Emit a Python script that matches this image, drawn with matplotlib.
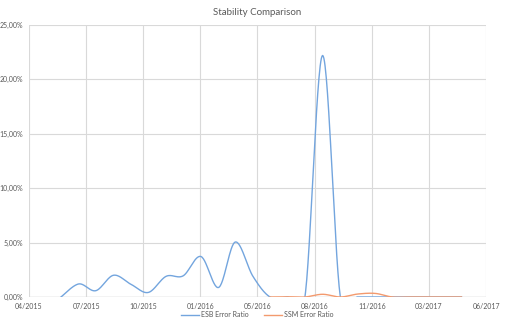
import datetime as dt

import matplotlib
matplotlib.use("Agg")
import matplotlib.pyplot as plt
import matplotlib.dates as mdates
import numpy as np

# monthly error ratios, in percent
esb_months = ["2015-05", "2015-06", "2015-07", "2015-08", "2015-09", "2015-10",
              "2015-11", "2015-12", "2016-01", "2016-02", "2016-03", "2016-04",
              "2016-05", "2016-06", "2016-07", "2016-08", "2016-09", "2016-10",
              "2016-11", "2016-12", "2017-01", "2017-02", "2017-03", "2017-04"]
esb_ratio = [0.0, 1.2, 0.58, 2.0, 1.15, 0.42,
             1.9, 1.95, 3.72, 0.88, 5.05, 1.9,
             0.0, 0.0, 0.0, 22.2, 0.0, 0.0,
             0.0, 0.0, 0.0, 0.0, 0.0, 0.0]

ssm_months = ["2016-05", "2016-06", "2016-07", "2016-08", "2016-09", "2016-10",
              "2016-11", "2016-12", "2017-01", "2017-02", "2017-03", "2017-04"]
ssm_ratio = [0.0, 0.02, 0.0, 0.25, 0.0, 0.27,
             0.33, 0.0, 0.0, 0.0, 0.0, 0.0]

y_ticks = [0, 5, 10, 15, 20, 25]


def to_dates(months):
    return [dt.date(int(m[:4]), int(m[5:]), 27) for m in months]


def smooth(xs, ys, n=30):
    # catmull-rom style bezier, same idea as the "smoothed line" option in excel
    xs = np.asarray(xs, float)
    ys = np.asarray(ys, float)
    px = np.concatenate([[xs[0]], xs, [xs[-1]]])
    py = np.concatenate([[ys[0]], ys, [ys[-1]]])
    out_x, out_y = [], []
    t = np.linspace(0, 1, n)
    for i in range(1, len(px) - 2):
        p0 = np.array([px[i], py[i]])
        p3 = np.array([px[i + 1], py[i + 1]])
        c1 = p0 + (p3 - np.array([px[i - 1], py[i - 1]])) / 6
        c2 = p3 - (np.array([px[i + 2], py[i + 2]]) - p0) / 6
        b = ((1 - t) ** 3)[:, None] * p0 + (3 * (1 - t) ** 2 * t)[:, None] * c1 \
            + (3 * (1 - t) * t ** 2)[:, None] * c2 + (t ** 3)[:, None] * p3
        out_x.extend(b[:, 0])
        out_y.extend(b[:, 1])
    return np.array(out_x), np.array(out_y)


plt.rcParams["font.family"] = ["Lato", "DejaVu Sans"]

fig = plt.figure(figsize=(5.05, 3.3), dpi=100)
ax = fig.add_axes([0.0574, 0.1, 0.905, 0.8242])

start = dt.date(2015, 4, 1)
x0 = mdates.date2num(start)

ex, ey = smooth(mdates.date2num(to_dates(esb_months)), esb_ratio)
sx, sy = smooth(mdates.date2num(to_dates(ssm_months)), ssm_ratio)

ax.plot(ex, ey, color="#73a5de", lw=1.0, label="ESB Error Ratio")
ax.plot(sx, sy, color="#f39a6e", lw=1.0, label="SSM Error Ratio")

ax.set_xlim(x0, x0 + 800)
ax.set_ylim(0, 25)
ax.set_xticks([x0 + 100 * k for k in range(9)])
ax.xaxis.set_major_formatter(mdates.DateFormatter("%m/%Y"))
ax.set_yticks(y_ticks)
ax.set_yticklabels([f"{v:.2f}%".replace(".", ",") for v in y_ticks])

ax.grid(True, color="#d9d9d9", lw=0.8)
ax.set_axisbelow(True)
for s in ax.spines.values():
    s.set_visible(False)
ax.axhline(0, color="#d0d0d0", lw=1.0, zorder=0.5)
ax.tick_params(length=0, labelsize=5, colors="#595959", pad=4)

ax.set_title("Stability Comparison", fontsize=7, color="#595959", pad=7)
ax.legend(loc="upper center", bbox_to_anchor=(0.5, -0.03), ncol=2, frameon=False,
          fontsize=5, labelcolor="#595959", handlelength=2.6, columnspacing=2.2,
          handletextpad=0.3)

fig.savefig("out.png", dpi=100)
